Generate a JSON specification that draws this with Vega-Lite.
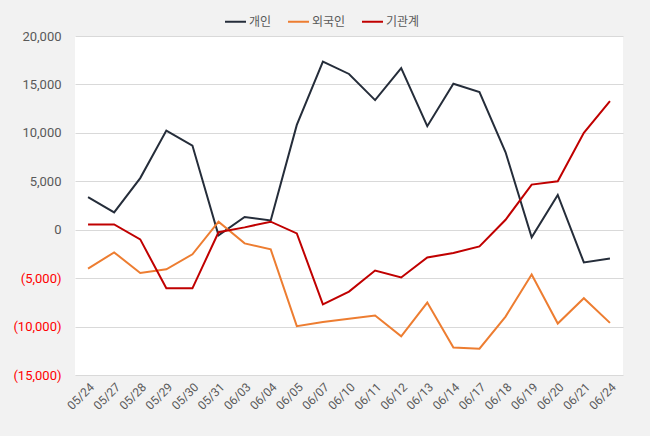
{
  "$schema": "https://vega.github.io/schema/vega-lite/v6.json",
  "width": 548,
  "height": 339,
  "autosize": "none",
  "padding": {"left": 75, "top": 36, "right": 27, "bottom": 61},
  "background": "#f2f2f2",
  "config": {
    "view": {"fill": "#ffffff", "stroke": null},
    "font": "Roboto, 'Noto Sans CJK KR'"
  },
  "data": {
    "values": [
      {"date": "05/24", "s": "개인", "v": 3370}, {"date": "05/24", "s": "외국인", "v": -4020}, {"date": "05/24", "s": "기관계", "v": 550},
      {"date": "05/27", "s": "개인", "v": 1790}, {"date": "05/27", "s": "외국인", "v": -2340}, {"date": "05/27", "s": "기관계", "v": 550},
      {"date": "05/28", "s": "개인", "v": 5330}, {"date": "05/28", "s": "외국인", "v": -4470}, {"date": "05/28", "s": "기관계", "v": -1000},
      {"date": "05/29", "s": "개인", "v": 10240}, {"date": "05/29", "s": "외국인", "v": -4090}, {"date": "05/29", "s": "기관계", "v": -6050},
      {"date": "05/30", "s": "개인", "v": 8690}, {"date": "05/30", "s": "외국인", "v": -2540}, {"date": "05/30", "s": "기관계", "v": -6050},
      {"date": "05/31", "s": "개인", "v": -580}, {"date": "05/31", "s": "외국인", "v": 830}, {"date": "05/31", "s": "기관계", "v": -260},
      {"date": "06/03", "s": "개인", "v": 1310}, {"date": "06/03", "s": "외국인", "v": -1410}, {"date": "06/03", "s": "기관계", "v": 240},
      {"date": "06/04", "s": "개인", "v": 960}, {"date": "06/04", "s": "외국인", "v": -2030}, {"date": "06/04", "s": "기관계", "v": 830},
      {"date": "06/05", "s": "개인", "v": 10820}, {"date": "06/05", "s": "외국인", "v": -9960}, {"date": "06/05", "s": "기관계", "v": -380},
      {"date": "06/07", "s": "개인", "v": 17350}, {"date": "06/07", "s": "외국인", "v": -9520}, {"date": "06/07", "s": "기관계", "v": -7700},
      {"date": "06/10", "s": "개인", "v": 16080}, {"date": "06/10", "s": "외국인", "v": -9200}, {"date": "06/10", "s": "기관계", "v": -6390},
      {"date": "06/11", "s": "개인", "v": 13380}, {"date": "06/11", "s": "외국인", "v": -8860}, {"date": "06/11", "s": "기관계", "v": -4210},
      {"date": "06/12", "s": "개인", "v": 16690}, {"date": "06/12", "s": "외국인", "v": -11000}, {"date": "06/12", "s": "기관계", "v": -4930},
      {"date": "06/13", "s": "개인", "v": 10690}, {"date": "06/13", "s": "외국인", "v": -7520}, {"date": "06/13", "s": "기관계", "v": -2860},
      {"date": "06/14", "s": "개인", "v": 15070}, {"date": "06/14", "s": "외국인", "v": -12170}, {"date": "06/14", "s": "기관계", "v": -2410},
      {"date": "06/17", "s": "개인", "v": 14210}, {"date": "06/17", "s": "외국인", "v": -12280}, {"date": "06/17", "s": "기관계", "v": -1720},
      {"date": "06/18", "s": "개인", "v": 8000}, {"date": "06/18", "s": "외국인", "v": -8970}, {"date": "06/18", "s": "기관계", "v": 1030},
      {"date": "06/19", "s": "개인", "v": -790}, {"date": "06/19", "s": "외국인", "v": -4620}, {"date": "06/19", "s": "기관계", "v": 4660},
      {"date": "06/20", "s": "개인", "v": 3590}, {"date": "06/20", "s": "외국인", "v": -9690}, {"date": "06/20", "s": "기관계", "v": 5000},
      {"date": "06/21", "s": "개인", "v": -3380}, {"date": "06/21", "s": "외국인", "v": -7070}, {"date": "06/21", "s": "기관계", "v": 10000},
      {"date": "06/24", "s": "개인", "v": -2970}, {"date": "06/24", "s": "외국인", "v": -9620}, {"date": "06/24", "s": "기관계", "v": 13280}
    ]
  },
  "mark": {"type": "line", "strokeWidth": 2},
  "encoding": {
    "x": {
      "field": "date",
      "type": "ordinal",
      "sort": null,
      "scale": {"type": "point", "padding": 0.5},
      "axis": {
        "title": null,
        "domain": false,
        "ticks": false,
        "grid": false,
        "labelAngle": -45,
        "labelFontSize": 12,
        "labelColor": "#595959",
        "labelPadding": 6
      }
    },
    "y": {
      "field": "v",
      "type": "quantitative",
      "scale": {"domain": [-15000, 20000], "nice": false},
      "axis": {
        "title": null,
        "domain": false,
        "ticks": false,
        "values": [-15000, -10000, -5000, 0, 5000, 10000, 15000, 20000],
        "gridColor": "#d9d9d9",
        "labelFontSize": 13,
        "labelPadding": 14,
        "labelExpr": "datum.value < 0 ? '(' + format(-datum.value, ',') + ')' : format(datum.value, ',')",
        "labelColor": {"condition": {"test": "datum.value < 0", "value": "#ff0000"}, "value": "#595959"}
      }
    },
    "color": {
      "field": "s",
      "type": "nominal",
      "sort": ["개인", "외국인", "기관계"],
      "scale": {"domain": ["개인", "외국인", "기관계"], "range": ["#252d3a", "#ed7d31", "#c00000"]},
      "legend": {
        "title": null,
        "orient": "none",
        "direction": "horizontal",
        "legendX": 149,
        "legendY": -26,
        "symbolType": "stroke",
        "symbolSize": 441,
        "symbolStrokeWidth": 2,
        "labelFontSize": 12,
        "labelColor": "#595959",
        "labelOffset": 2,
        "columnPadding": 12,
        "labelFont": "'Noto Sans CJK KR'"
      }
    }
  }
}
